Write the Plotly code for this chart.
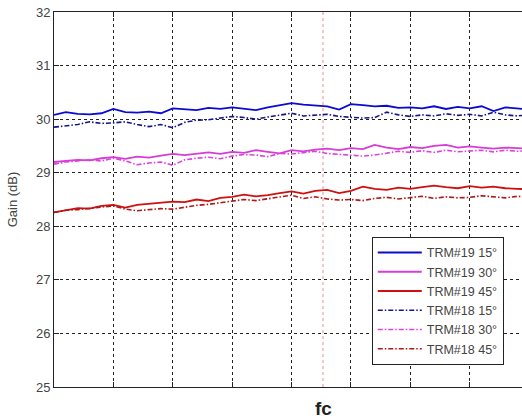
import plotly.graph_objects as go

# frequency axis (arbitrary units, one grid division = 1)
freq = [0.0, 0.2, 0.4, 0.6, 0.8, 1.0, 1.2, 1.4, 1.6, 1.8,
        2.0, 2.2, 2.4, 2.6, 2.8, 3.0, 3.2, 3.4, 3.6, 3.8,
        4.0, 4.2, 4.4, 4.6, 4.8, 5.0, 5.2, 5.4, 5.6, 5.8,
        6.0, 6.2, 6.4, 6.6, 6.8, 7.0, 7.2, 7.4, 7.6, 7.8, 8.0]
fc = 4.53

trm19_15 = [30.08, 30.13, 30.10, 30.09, 30.11, 30.19, 30.13, 30.12, 30.14, 30.11,
            30.20, 30.19, 30.17, 30.21, 30.19, 30.22, 30.20, 30.17, 30.22, 30.26,
            30.30, 30.27, 30.25, 30.24, 30.18, 30.28, 30.26, 30.24, 30.25, 30.21,
            30.22, 30.20, 30.24, 30.19, 30.23, 30.20, 30.24, 30.15, 30.22, 30.20, 30.18]
trm19_30 = [29.20, 29.22, 29.24, 29.23, 29.27, 29.29, 29.26, 29.30, 29.28, 29.32,
            29.35, 29.33, 29.36, 29.38, 29.35, 29.39, 29.37, 29.42, 29.39, 29.36,
            29.42, 29.40, 29.43, 29.45, 29.42, 29.46, 29.44, 29.52, 29.47, 29.44,
            29.48, 29.46, 29.50, 29.52, 29.47, 29.49, 29.47, 29.45, 29.47, 29.46, 29.45]
trm19_45 = [28.26, 28.30, 28.34, 28.33, 28.38, 28.40, 28.35, 28.40, 28.42, 28.44,
            28.46, 28.45, 28.50, 28.47, 28.53, 28.55, 28.59, 28.56, 28.58, 28.62,
            28.65, 28.61, 28.66, 28.68, 28.62, 28.66, 28.74, 28.70, 28.68, 28.72,
            28.70, 28.73, 28.76, 28.73, 28.71, 28.75, 28.72, 28.74, 28.71, 28.70, 28.69]
trm18_15 = [29.85, 29.88, 29.90, 29.95, 29.92, 29.93, 29.95, 29.90, 29.86, 29.90,
            29.84, 29.94, 29.98, 29.99, 30.02, 30.05, 30.03, 30.00, 30.04, 30.07,
            30.11, 30.06, 30.08, 30.09, 30.05, 30.04, 30.02, 30.03, 30.13, 30.08,
            30.05, 30.08, 30.06, 30.10, 30.07, 30.09, 30.06, 30.13, 30.08, 30.06, 30.08]
trm18_30 = [29.16, 29.20, 29.22, 29.24, 29.22, 29.27, 29.22, 29.15, 29.18, 29.20,
            29.14, 29.24, 29.27, 29.29, 29.26, 29.31, 29.34, 29.33, 29.30, 29.36,
            29.35, 29.38, 29.40, 29.36, 29.34, 29.33, 29.31, 29.33, 29.37, 29.40,
            29.38, 29.41, 29.38, 29.42, 29.39, 29.40, 29.42, 29.39, 29.42, 29.40, 29.41]
trm18_45 = [28.26, 28.30, 28.31, 28.34, 28.36, 28.38, 28.32, 28.29, 28.31, 28.33,
            28.32, 28.36, 28.39, 28.41, 28.44, 28.46, 28.50, 28.48, 28.51, 28.54,
            28.58, 28.52, 28.55, 28.51, 28.49, 28.50, 28.48, 28.52, 28.54, 28.51,
            28.53, 28.56, 28.52, 28.55, 28.53, 28.54, 28.57, 28.55, 28.53, 28.56, 28.55]

DD = "5px,2px,1.5px,2px"
series = [
    ("TRM#19 15°", trm19_15, "#0a0ad0", "solid", 1.8),
    ("TRM#19 30°", trm19_30, "#d63cd6", "solid", 1.8),
    ("TRM#19 45°", trm19_45, "#d01010", "solid", 1.8),
    ("TRM#18 15°", trm18_15, "#14148c", DD, 1.6),
    ("TRM#18 30°", trm18_30, "#e040e0", DD, 1.6),
    ("TRM#18 45°", trm18_45, "#b01818", DD, 1.6),
]

fig = go.Figure()
for name, vals, color, dash, w in series:
    fig.add_trace(go.Scatter(x=freq, y=vals, mode="lines", name=name,
                             line=dict(color=color, dash=dash, width=w)))

fig.add_shape(type="line", xref="x", yref="paper", x0=fc, x1=fc, y0=0, y1=1,
              line=dict(color="#e89090", width=1, dash="dot"), layer="below")

fig.add_annotation(text="<b>fc</b>", x=fc, xref="x", y=-0.056, yref="paper",
                   showarrow=False, yanchor="middle",
                   font=dict(size=19, color="#222222", family="Liberation Sans, Arial"))

fig.update_layout(
    width=522, height=420,
    margin=dict(l=54, r=0, t=12, b=33, autoexpand=False),
    paper_bgcolor="white", plot_bgcolor="white",
    font=dict(family="Liberation Sans, Arial", size=12, color="#444444"),
    showlegend=True,
    legend=dict(x=0.679, y=0.059, xanchor="left", yanchor="bottom",
                bgcolor="white", bordercolor="#222222", borderwidth=1,
                font=dict(size=12.5, color="#444444"), itemwidth=44,
                tracegroupgap=0),
    xaxis=dict(range=[0, 7.88], tickvals=[0, 1, 2, 3, 4, 5, 6, 7],
               showticklabels=False, showgrid=True, gridcolor="#222222",
               griddash="3px,3px", gridwidth=1, zeroline=False, automargin=False,
               showline=True, linecolor="#222222", linewidth=1, mirror="ticks",
               ticks="inside", ticklen=5, tickcolor="#222222"),
    yaxis=dict(range=[25, 32], dtick=1, showgrid=True, gridcolor="#222222",
               griddash="3px,3px", gridwidth=1, zeroline=False, automargin=False,
               showline=True, linecolor="#222222", linewidth=1,
               ticks="inside", ticklen=5, tickcolor="#222222",
               tickfont=dict(size=13, color="#444444"),
               title=dict(text="Gain (dB)", font=dict(size=13, color="#444444"))),
)

fig.write_html("out.html", config={"displayModeBar": False},
               post_script="document.body.style.margin='0';document.body.style.overflow='hidden';")
